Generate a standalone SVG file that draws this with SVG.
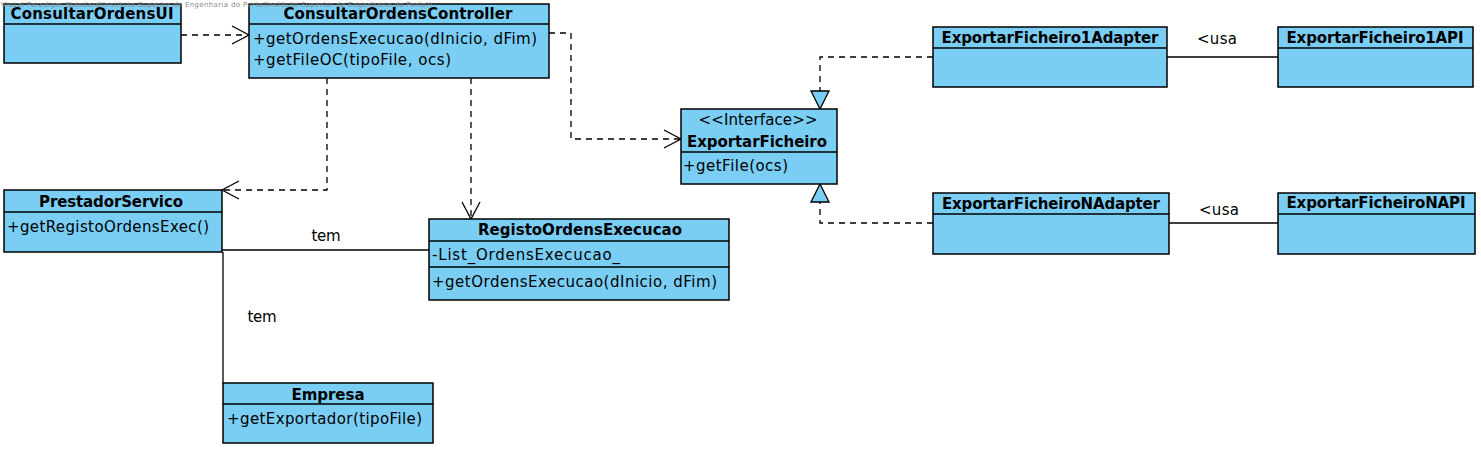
<svg xmlns="http://www.w3.org/2000/svg" width="1481" height="449" viewBox="0 0 1481 449">
<style>
.box{fill:#7ACEF4;stroke:#000;stroke-width:1.5}
.div{stroke:#000;stroke-width:1.3}
.t{font-family:"DejaVu Sans","Liberation Sans",sans-serif;font-size:15px;fill:#000}
.b{font-weight:bold;text-anchor:middle}
.c{text-anchor:middle}
.dash{fill:none;stroke:#000;stroke-width:1.3;stroke-dasharray:6 5}
.solid{fill:none;stroke:#000;stroke-width:1.3}
.wm{font-family:"DejaVu Sans","Liberation Sans",sans-serif;font-size:7px;fill:#8a8a8a}
</style>
<defs>
<marker id="open" markerUnits="userSpaceOnUse" viewBox="-19 -11 21 22" markerWidth="21" markerHeight="22" refX="0" refY="0" orient="auto">
<path d="M-17,-9 L0,0 L-17,9" fill="none" stroke="#000" stroke-width="1.3" stroke-dasharray="none"/>
</marker>
<marker id="tri" markerUnits="userSpaceOnUse" viewBox="-20 -11 22 22" markerWidth="22" markerHeight="22" refX="0" refY="0" orient="auto">
<path d="M-18,-9 L0,0 L-18,9 Z" fill="#7ACEF4" stroke="#000" stroke-width="1.3" stroke-dasharray="none"/>
</marker>
</defs>

<g id="connectors">
<path class="dash" d="M181,35 H249" marker-end="url(#open)"/>
<path class="dash" d="M549,33 H571 V139 H681" marker-end="url(#open)"/>
<path class="dash" d="M327,78 V190 H222" marker-end="url(#open)"/>
<path class="dash" d="M471,78 V219" marker-end="url(#open)"/>
<path class="dash" d="M933,57 H820 V109" marker-end="url(#tri)"/>
<path class="dash" d="M933,223 H820 V184" marker-end="url(#tri)"/>
<path class="solid" d="M1167,57 H1278"/>
<path class="solid" d="M1169,223 H1278"/>
<path class="solid" d="M222,250 H429"/>
<path class="solid" d="M223,252 V383"/>
<text class="t c" x="1217" y="44" textLength="40">&lt;usa</text>
<text class="t c" x="1219" y="215" textLength="40">&lt;usa</text>
<text class="t c" x="326" y="241" textLength="29">tem</text>
<text class="t c" x="262" y="322" textLength="29">tem</text>
</g>

<g id="ConsultarOrdensUI">
<rect class="box" x="4" y="4" width="177" height="59"/>
<line class="div" x1="4" y1="24" x2="181" y2="24"/>
<text class="t b" x="92" y="19" textLength="163">ConsultarOrdensUI</text>
</g>

<g id="ConsultarOrdensController">
<rect class="box" x="249" y="4" width="300" height="74"/>
<line class="div" x1="249" y1="24" x2="549" y2="24"/>
<text class="t b" x="398" y="19" textLength="229">ConsultarOrdensController</text>
<text class="t" x="253" y="44" textLength="284">+getOrdensExecucao(dInicio, dFim)</text>
<text class="t" x="253" y="65" textLength="198">+getFileOC(tipoFile, ocs)</text>
</g>

<g id="ExportarFicheiro">
<rect class="box" x="681" y="109" width="156" height="75"/>
<line class="div" x1="681" y1="152" x2="837" y2="152"/>
<text class="t c" x="758" y="125" textLength="119">&lt;&lt;Interface&gt;&gt;</text>
<text class="t b" x="757" y="147" textLength="140">ExportarFicheiro</text>
<text class="t" x="683" y="171" textLength="105">+getFile(ocs)</text>
</g>

<g id="ExportarFicheiro1Adapter">
<rect class="box" x="933" y="27" width="234" height="60"/>
<line class="div" x1="933" y1="48" x2="1167" y2="48"/>
<text class="t b" x="1050" y="43" textLength="217">ExportarFicheiro1Adapter</text>
</g>

<g id="ExportarFicheiroNAdapter">
<rect class="box" x="933" y="193" width="236" height="61"/>
<line class="div" x1="933" y1="214" x2="1169" y2="214"/>
<text class="t b" x="1051" y="209" textLength="218">ExportarFicheiroNAdapter</text>
</g>

<g id="ExportarFicheiro1API">
<rect class="box" x="1278" y="27" width="195" height="60"/>
<line class="div" x1="1278" y1="48" x2="1473" y2="48"/>
<text class="t b" x="1375" y="43" textLength="177">ExportarFicheiro1API</text>
</g>

<g id="ExportarFicheiroNAPI">
<rect class="box" x="1278" y="193" width="197" height="61"/>
<line class="div" x1="1278" y1="214" x2="1475" y2="214"/>
<text class="t b" x="1376" y="208" textLength="179">ExportarFicheiroNAPI</text>
</g>

<g id="PrestadorServico">
<rect class="box" x="4" y="190" width="218" height="62"/>
<line class="div" x1="4" y1="212" x2="222" y2="212"/>
<text class="t b" x="111" y="207" textLength="144">PrestadorServico</text>
<text class="t" x="7" y="232" textLength="202">+getRegistoOrdensExec()</text>
</g>

<g id="RegistoOrdensExecucao">
<rect class="box" x="429" y="219" width="300" height="81"/>
<line class="div" x1="429" y1="241" x2="729" y2="241"/>
<line class="div" x1="429" y1="267" x2="729" y2="267"/>
<text class="t b" x="580" y="235" textLength="204">RegistoOrdensExecucao</text>
<text class="t" x="432" y="260" textLength="188">-List_OrdensExecucao_</text>
<text class="t" x="432" y="287" textLength="285">+getOrdensExecucao(dInicio, dFim)</text>
</g>

<g id="Empresa">
<rect class="box" x="223" y="383" width="210" height="60"/>
<line class="div" x1="223" y1="404" x2="433" y2="404"/>
<text class="t b" x="328" y="400" textLength="73">Empresa</text>
<text class="t" x="227" y="424" textLength="195">+getExportador(tipoFile)</text>
</g>

<text class="wm" x="1" y="7" textLength="431">Visual Paradigm Standard(Instituto Superior de Engenharia do Porto(Instituto Superior de Engenharia do Porto))</text>
</svg>
